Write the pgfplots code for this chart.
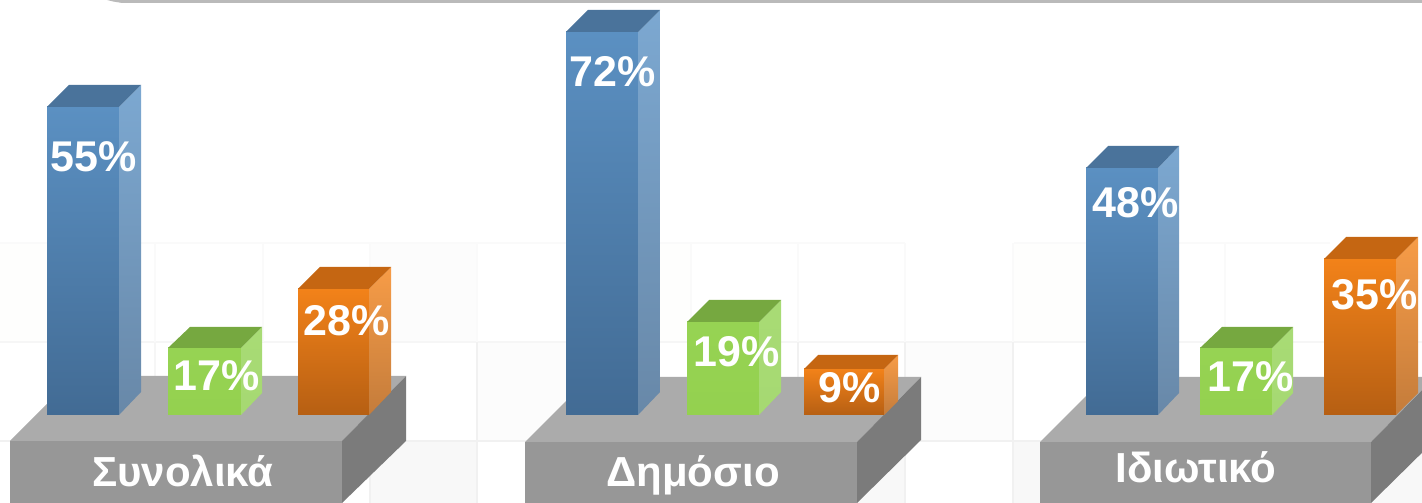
\documentclass[border=0pt]{standalone}
\usepackage{pgfplots}
\pgfplotsset{compat=1.18}
\usepackage{fontspec}
\setmainfont{Liberation Sans}
\definecolor{bfT}{HTML}{5B90C2}\definecolor{bfB}{HTML}{426B94}
\definecolor{bsT}{HTML}{7CA8D1}\definecolor{bsB}{HTML}{6888A8}
\definecolor{btop}{HTML}{4A739B}
\definecolor{gfT}{HTML}{96D353}\definecolor{gfB}{HTML}{94D14F}
\definecolor{gsT}{HTML}{A8DB75}\definecolor{gsB}{HTML}{A6D972}
\definecolor{gtop}{HTML}{76A840}
\definecolor{ofT}{HTML}{F28219}\definecolor{ofB}{HTML}{B65F13}
\definecolor{osT}{HTML}{F79C47}\definecolor{osB}{HTML}{C47C3B}
\definecolor{otop}{HTML}{C56612}
\definecolor{ptop}{HTML}{ABABAB}\definecolor{pfront}{HTML}{979797}\definecolor{pside}{HTML}{7B7B7B}
\definecolor{hdr}{HTML}{BABABA}\definecolor{gridc}{HTML}{F6F6F6}\definecolor{gridd}{HTML}{F1F1F1}
\definecolor{gridp}{HTML}{FAFAFA}
\definecolor{cellA}{HTML}{F8F8F8}\definecolor{cellB}{HTML}{FCFCFC}\definecolor{cellC}{HTML}{FEFEFD}
\pgfplotsset{
 front/.style n args={3}{ybar,bar width=#1,bar shift=0pt,draw=none,top color=#2,bottom color=#3},
 face/.style n args={2}{draw=none,top color=#1,bottom color=#2,forget plot},
 flat/.style={draw=none,fill=#1,forget plot}
}
\tikzset{val/.style={text=white,font=\fontsize{43}{43}\bfseries\selectfont,inner sep=0pt},
 cat/.style={text=white,font=\fontsize{42}{42}\bfseries\selectfont,inner sep=0pt,anchor=base}}
\begin{document}
\begin{tikzpicture}
\path[use as bounding box] (0,0) rectangle (1422pt,503pt);
\begin{axis}[x=1pt,y=1pt,xmin=0,xmax=1422,ymin=-88,ymax=415,hide axis,clip=true,anchor=origin,at={(0pt,88pt)}]
% faint background cells
\addplot[flat=cellA] coordinates {(371,-26) (477,-26) (477,-88) (371,-88)} -- cycle;
\addplot[flat=cellA] coordinates {(799,-26) (905,-26) (905,-88) (799,-88)} -- cycle;
\addplot[flat=cellA] coordinates {(1014,-26) (1040,-26) (1040,-88) (1014,-88)} -- cycle;
\addplot[flat=cellA] coordinates {(1372,-26) (1422,-26) (1422,-88) (1372,-88)} -- cycle;
\addplot[flat=cellB] coordinates {(478,73) (566,73) (566,-26) (478,-26)} -- cycle;
\addplot[flat=cellB] coordinates {(906,73) (1012,73) (1012,-26) (906,-26)} -- cycle;
\addplot[flat=cellB] coordinates {(371,172) (477,172) (477,73) (371,73)} -- cycle;
\addplot[flat=cellC] coordinates {(0,172) (47,172) (47,73) (0,73)} -- cycle;
\addplot[flat=cellC] coordinates {(1014,172) (1086,172) (1086,73) (1014,73)} -- cycle;
\addplot[flat=cellC] coordinates {(638,172) (690,172) (690,73) (638,73)} -- cycle;
% faint background grid
\addplot[gridc,line width=1.6pt,forget plot] coordinates {(0,73) (1422,73)};
\addplot[gridd,line width=1.8pt,forget plot] coordinates {(0,-26) (1422,-26)};
\addplot[gridp,line width=1.2pt,forget plot] coordinates {(0,172) (477,172)};
\addplot[gridp,line width=1.2pt,forget plot] coordinates {(477,172) (905,172)};
\addplot[gridp,line width=1.2pt,forget plot] coordinates {(1014,172) (1330,172)};
\addplot[gridp,line width=1.2pt,forget plot] coordinates {(155,172) (155,73)};
\addplot[gridc,line width=1.6pt,forget plot] coordinates {(155,73) (155,-26)};
\addplot[gridp,line width=1.2pt,forget plot] coordinates {(263,172) (263,73)};
\addplot[gridp,line width=1.2pt,forget plot] coordinates {(370,172) (370,73)};
\addplot[gridd,line width=1.8pt,forget plot] coordinates {(370,73) (370,-88)};
\addplot[gridp,line width=1.2pt,forget plot] coordinates {(477,172) (477,73)};
\addplot[gridd,line width=1.8pt,forget plot] coordinates {(477,73) (477,-88)};
\addplot[gridp,line width=1.2pt,forget plot] coordinates {(691,172) (691,73)};
\addplot[gridp,line width=1.2pt,forget plot] coordinates {(798,172) (798,73)};
\addplot[gridd,line width=1.8pt,forget plot] coordinates {(798,73) (798,-88)};
\addplot[gridp,line width=1.2pt,forget plot] coordinates {(905,172) (905,73)};
\addplot[gridd,line width=1.8pt,forget plot] coordinates {(905,73) (905,-88)};
\addplot[gridp,line width=1.2pt,forget plot] coordinates {(1013,172) (1013,73)};
\addplot[gridd,line width=1.8pt,forget plot] coordinates {(1013,73) (1013,-88)};
\addplot[gridp,line width=1.2pt,forget plot] coordinates {(1225,172) (1225,73)};
% header strip
\addplot[flat=hdr] coordinates {(107,415) (1422,415) (1422,412) (122,412) (113,413.5)} -- cycle;
% platforms
\addplot[flat=ptop] coordinates {(10,-26) (75,39) (406,39) (342,-26)} -- cycle;
\addplot[flat=pfront] coordinates {(10,-26) (342,-26) (342,-88) (10,-88)} -- cycle;
\addplot[flat=pside] coordinates {(342,-26) (406,39) (406,-26) (342,-88)} -- cycle;
\addplot[flat=ptop] coordinates {(525,-27) (590,38) (921,38) (857,-27)} -- cycle;
\addplot[flat=pfront] coordinates {(525,-27) (857,-27) (857,-88) (525,-88)} -- cycle;
\addplot[flat=pside] coordinates {(857,-27) (921,38) (921,-25) (857,-88)} -- cycle;
\addplot[flat=ptop] coordinates {(1040,-27) (1105,38) (1435,38) (1371,-27)} -- cycle;
\addplot[flat=pfront] coordinates {(1040,-27) (1371,-27) (1371,-88) (1040,-88)} -- cycle;
\addplot[flat=pside] coordinates {(1371,-27) (1435,38) (1435,-25) (1371,-88)} -- cycle;
% Group 1 bars
\addplot[front={72}{bfT}{bfB}] coordinates {(83,308)};
\addplot[face={bsT}{bsB}] coordinates {(119,308) (141,330) (141,23) (119,0)} -- cycle;
\addplot[flat=btop] coordinates {(47,308) (69,330) (141,330) (119,308)} -- cycle;
\addplot[front={73}{gfT}{gfB}] coordinates {(204.5,67)};
\addplot[face={gsT}{gsB}] coordinates {(241,67) (262,88) (262,22) (241,0)} -- cycle;
\addplot[flat=gtop] coordinates {(168,67) (190,88) (262,88) (241,67)} -- cycle;
\addplot[front={71}{ofT}{ofB}] coordinates {(333.5,126)};
\addplot[face={osT}{osB}] coordinates {(369,126) (391,148) (391,23) (369,0)} -- cycle;
\addplot[flat=otop] coordinates {(298,126) (320,148) (391,148) (369,126)} -- cycle;
% Group 2 bars
\addplot[front={72}{bfT}{bfB}] coordinates {(602,383)};
\addplot[face={bsT}{bsB}] coordinates {(638,383) (660,405) (660,23) (638,0)} -- cycle;
\addplot[flat=btop] coordinates {(566,383) (588,405) (660,405) (638,383)} -- cycle;
\addplot[front={72}{gfT}{gfB}] coordinates {(723,93)};
\addplot[face={gsT}{gsB}] coordinates {(759,93) (781,115) (781,23) (759,0)} -- cycle;
\addplot[flat=gtop] coordinates {(687,93) (709,115) (781,115) (759,93)} -- cycle;
\addplot[front={80}{ofT}{ofB}] coordinates {(844,46)};
\addplot[face={osT}{osB}] coordinates {(884,46) (898,60) (898,14) (884,0)} -- cycle;
\addplot[flat=otop] coordinates {(804,46) (818,60) (898,60) (884,46)} -- cycle;
% Group 3 bars
\addplot[front={72}{bfT}{bfB}] coordinates {(1122,247)};
\addplot[face={bsT}{bsB}] coordinates {(1158,247) (1179,269) (1179,22) (1158,0)} -- cycle;
\addplot[flat=btop] coordinates {(1086,247) (1108,269) (1179,269) (1158,247)} -- cycle;
\addplot[front={72}{gfT}{gfB}] coordinates {(1236,67)};
\addplot[face={gsT}{gsB}] coordinates {(1272,67) (1293,88) (1293,22) (1272,0)} -- cycle;
\addplot[flat=gtop] coordinates {(1200,67) (1222,88) (1293,88) (1272,67)} -- cycle;
\addplot[front={72}{ofT}{ofB}] coordinates {(1360,156)};
\addplot[face={osT}{osB}] coordinates {(1396,156) (1418,178) (1418,22) (1396,0)} -- cycle;
\addplot[flat=otop] coordinates {(1324,156) (1346,178) (1418,178) (1396,156)} -- cycle;
% value labels
\node[val] at (axis cs:94,258) {55\%};
\node[val] at (axis cs:217,39) {17\%};
\node[val] at (axis cs:347,94) {28\%};
\node[val] at (axis cs:613,343) {72\%};
\node[val] at (axis cs:737,63.5) {19\%};
\node[val] at (axis cs:849.5,27) {9\%};
\node[val] at (axis cs:1136,212) {48\%};
\node[val] at (axis cs:1251,38) {17\%};
\node[val] at (axis cs:1375,120) {35\%};
% category labels
\node[cat] at (axis cs:183,-72) {Συνολικά};
\node[cat] at (axis cs:693,-72) {Δημόσιο};
\node[cat] at (axis cs:1196,-68) {Ιδιωτικό};
\end{axis}
\end{tikzpicture}
\end{document}
